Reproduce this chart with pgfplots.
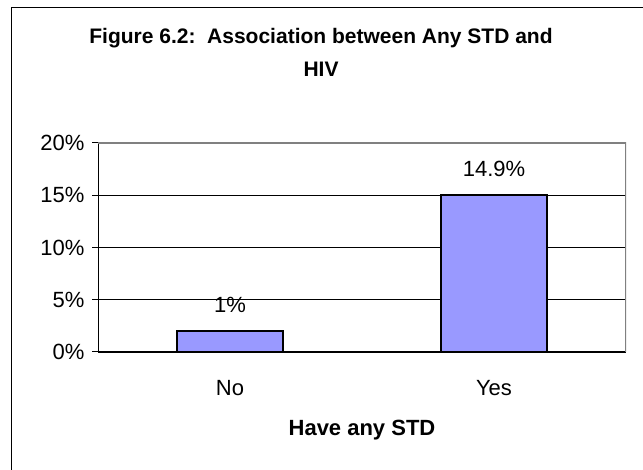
\documentclass[border=0pt]{standalone}
\usepackage{fontspec}
\setmainfont{Liberation Sans}
\usepackage{pgfplots}
\pgfplotsset{compat=1.18}
\definecolor{barblue}{HTML}{9999FF}
\definecolor{framegray}{HTML}{808080}

\begin{document}
\begin{tikzpicture}[x=1bp,y=1bp]
\useasboundingbox (0,0) rectangle (643,470);
% chart frame (left and top edges only)
\draw[line width=1bp] (11.5,0) -- (11.5,462.5) -- (643,462.5);
% title
\node[font=\fontsize{21bp}{25bp}\selectfont\bfseries, anchor=base] at (321,426) {Figure 6.2:\ \ Association between Any STD and};
\node[font=\fontsize{21bp}{25bp}\selectfont\bfseries, anchor=base] at (321,393) {HIV};

\begin{axis}[
    at={(98bp,118bp)}, anchor=south west,
    scale only axis,
    width=528bp, height=209bp,
    xmin=-0.5, xmax=1.5,
    ymin=0, ymax=20,
    axis lines=left,
    axis line style={-, line width=1bp, black},
    tick align=outside,
    xtick={0,1},
    xticklabels={No,Yes},
    x tick style={draw=none},
    extra x ticks={-0.5,0.5,1.5},
    extra x tick labels={},
    extra x tick style={major tick length=6bp, tick style={black, line width=1bp}},
    ytick={0,5,10,15,20},
    y tick style={black, line width=1bp},
    major tick length=6bp,
    yticklabel={\pgfmathprintnumber{\tick}\%},
    /pgf/number format/assume math mode=true,
    ticklabel style={font=\fontsize{22bp}{26bp}\selectfont},
    yticklabel style={anchor=east, xshift=-4bp},
    xticklabel style={anchor=center, yshift=-30bp},
    ymajorgrids,
    grid style={black, line width=0.75bp},
    xlabel={Have any STD},
    xlabel style={font=\fontsize{22bp}{26bp}\selectfont\bfseries, anchor=center, at={(axis description cs:0.5,0)}, yshift=-78bp},
    ybar, bar width=106bp,
    nodes near coords,
    point meta=explicit symbolic,
    nodes near coords style={font=\fontsize{22bp}{26bp}\selectfont, anchor=center, yshift=26bp},
]
\addplot[fill=barblue, draw=black, line width=1.5bp] coordinates {
    (0,2) [1\%]
    (1,15) [14.9\%]
};
\draw[framegray, line width=1.5bp] (rel axis cs:0,1) -- (rel axis cs:1,1) -- (rel axis cs:1,0);
\end{axis}
\end{tikzpicture}
\end{document}
